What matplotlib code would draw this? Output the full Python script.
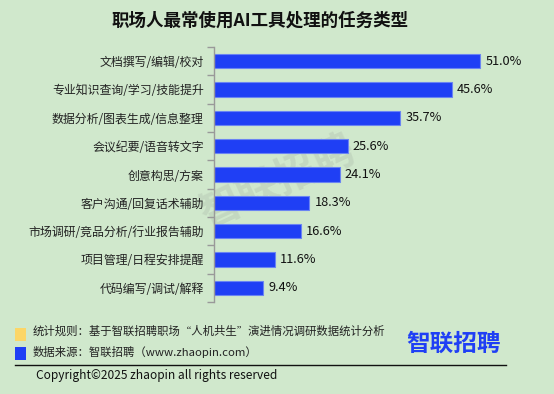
import matplotlib
matplotlib.use("Agg")
import matplotlib.pyplot as plt
from matplotlib.patches import Rectangle
from matplotlib.lines import Line2D

plt.rcParams['font.family'] = ['Noto Sans CJK SC', 'DejaVu Sans']

categories = ["文档撰写/编辑/校对", "专业知识查询/学习/技能提升", "数据分析/图表生成/信息整理",
              "会议纪要/语音转文字", "创意构思/方案", "客户沟通/回复话术辅助",
              "市场调研/竞品分析/行业报告辅助", "项目管理/日程安排提醒", "代码编写/调试/解释"]
values = [51.0, 45.6, 35.7, 25.6, 24.1, 18.3, 16.6, 11.6, 9.4]
title = "职场人最常使用AI工具处理的任务类型"

BG = '#d0e8cc'
W, H = 554, 394
fig = plt.figure(figsize=(W / 100, H / 100), dpi=100, facecolor=BG)
ax = fig.add_axes([214 / W, 1 - 302 / H, 313 / W, 255 / H])
ax.set_facecolor(BG)

y = list(range(len(categories)))
ax.barh(y, values, height=0.5, color='#1f3ff5', edgecolor='#6a84f3', linewidth=0.8, zorder=2)
for yi, v in zip(y, values):
    ax.text(v + 1.0, yi, f"{v:.1f}%", va='center', ha='left', fontsize=9.2, color='#111111')

ax.set_ylim(len(categories) - 0.5, -0.5)
ax.set_xlim(0, 60)
ax.set_yticks(y)
ax.set_yticklabels(categories, fontsize=8.6, color='#222222')
ax.tick_params(axis='y', which='major', length=0, pad=7.5)
ax.set_yticks([i - 0.5 for i in range(len(categories) + 1)], minor=True)
ax.tick_params(axis='y', which='minor', length=5, color='#999999', width=1)
ax.set_xticks([])
for s in ['top', 'right', 'bottom']:
    ax.spines[s].set_visible(False)
ax.spines['left'].set_color('#999999')
ax.spines['left'].set_linewidth(1)

fig.text(260 / W, 1 - 21 / H, title, ha='center', va='center', fontsize=12.6,
         fontweight='bold', color='#111111')

# watermark (behind bars)
ax.text(278 / W, 1 - 183 / H, "智联招聘", ha='center', va='center', fontsize=30,
        fontweight='bold', color='#b9cbb6', alpha=0.55, rotation=25, zorder=1,
        transform=fig.transFigure, clip_on=False)

# footer
fig.patches.append(Rectangle((15 / W, 1 - 341 / H), 11 / W, 13 / H, transform=fig.transFigure,
                             facecolor='#fcd667', edgecolor='none'))
fig.patches.append(Rectangle((15 / W, 1 - 360 / H), 11 / W, 13 / H, transform=fig.transFigure,
                             facecolor='#1f3ff5', edgecolor='none'))
fig.text(33 / W, 1 - 331 / H, "统计规则：基于智联招聘职场“人机共生”演进情况调研数据统计分析",
         ha='left', va='center', fontsize=8.2, color='#222222')
fig.text(33 / W, 1 - 352 / H, "数据来源：智联招聘（www.zhaopin.com）",
         ha='left', va='center', fontsize=8.2, color='#222222')
fig.text(454 / W, 1 - 344 / H, "智联招聘", ha='center', va='center', fontsize=17,
         fontweight='bold', color='#1f3ff5')
fig.lines.append(Line2D([15 / W, 506 / W], [1 - 365 / H, 1 - 365 / H], transform=fig.transFigure,
                        color='#111111', linewidth=1))
fig.text(36 / W, 1 - 375 / H, "Copyright©2025 zhaopin all rights reserved",
         ha='left', va='center', fontsize=8.6, color='#111111')

fig.savefig('out.png', dpi=100, facecolor=BG)
